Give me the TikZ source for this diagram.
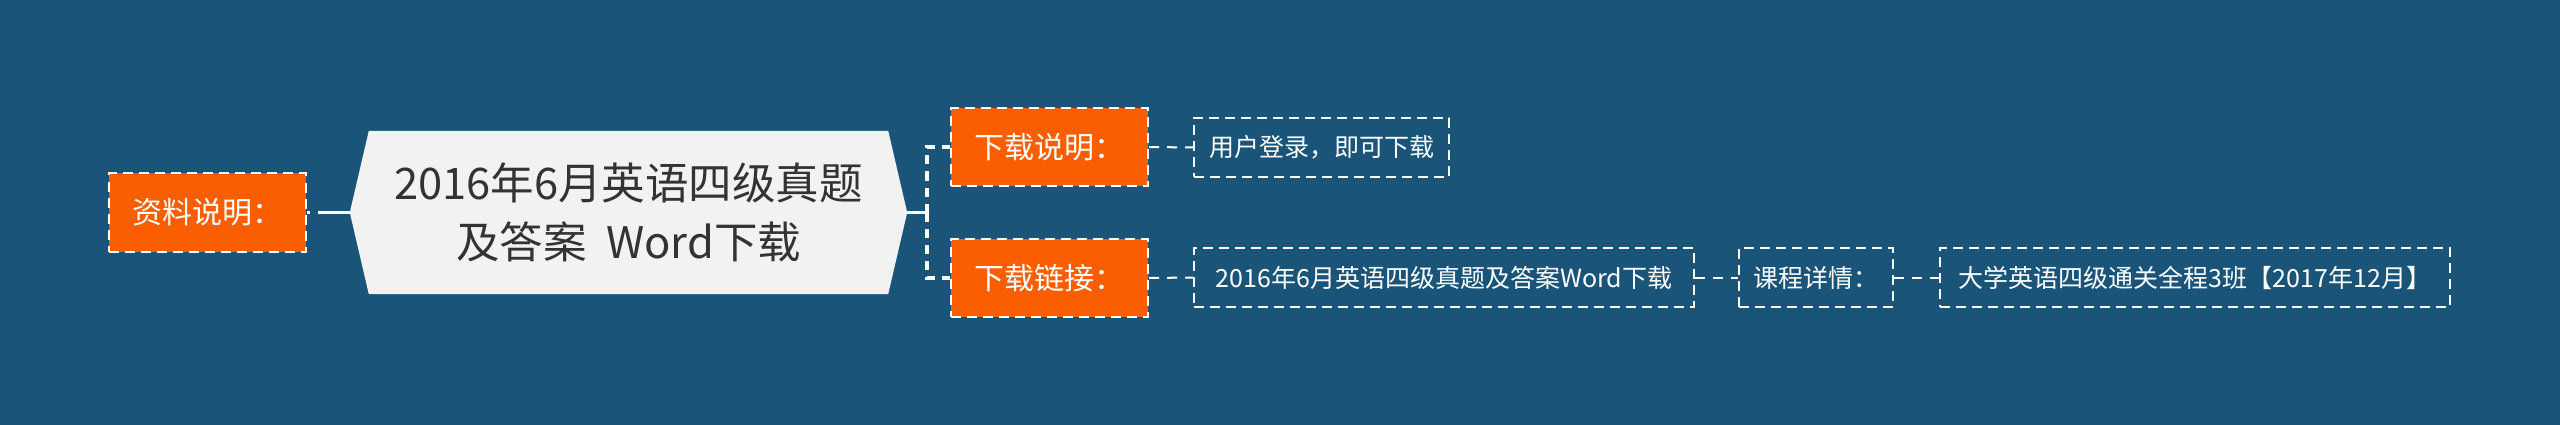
\documentclass[tikz,border=0pt]{standalone}
\usepackage{fontspec}
\setmainfont{Noto Sans CJK SC}
\usetikzlibrary{backgrounds}
\definecolor{bgblue}{RGB}{26,84,120}
\definecolor{orangefill}{RGB}{250,94,0}
\definecolor{centerfill}{RGB}{242,242,242}
\definecolor{centertext}{RGB}{51,51,51}
\tikzset{
  orangebox/.style={draw=white, line width=2pt, dash pattern=on 10pt off 6pt, fill=orangefill,
    text=white, font=\fontsize{30}{36}\selectfont, minimum width=197pt, minimum height=78pt,
    inner sep=0pt},
  textbox/.style={draw=white, line width=2pt, dash pattern=on 10pt off 6pt,
    text=white, font=\fontsize{25}{30}\selectfont, minimum height=59pt, inner sep=0pt},
  link/.style={draw=white, line width=2pt, dash pattern=on 10pt off 8pt},
  trunk/.style={draw=white, line width=3.5pt, dash pattern=on 9pt off 7pt},
}
\begin{document}
\begin{tikzpicture}[x=1pt,y=-1pt]
% central node
\node[minimum width=557pt, minimum height=163pt, inner sep=0pt, text=centertext,
  align=center, font=\fontsize{43.5}{59}\selectfont] (c) at (628.5,212.5)
  {2016年6月英语四级真题\\及答案\ \ Word下载};
\begin{scope}[on background layer]
\useasboundingbox[fill=bgblue] (0,0) rectangle (2560,425);
\fill[centerfill] (c.west) -- ([xshift=19pt]c.north west) -- ([xshift=-19pt]c.north east)
  -- (c.east) -- ([xshift=-19pt]c.south east) -- ([xshift=19pt]c.south west) -- cycle;
\end{scope}
% left
\node[orangebox] (l) at (207,212.5) {资料说明：};
% right branches
\node[orangebox] (d1) at (1049.5,147) {下载说明：};
\node[orangebox] (d2) at (1049.5,278) {下载链接：};
\node[textbox, minimum width=255pt] (t1) at (1321.5,147.5) {用户登录，即可下载};
\node[textbox, minimum width=500pt] (t2) at (1444,277.5) {2016年6月英语四级真题及答案Word下载};
\node[textbox, minimum width=154pt] (t3) at (1816,277.5) {课程详情：};
\node[textbox, minimum width=510pt] (t4) at (2195,277.5) {大学英语四级通关全程3班【2017年12月】};
\coordinate (j) at (927,212.5);
% connectors
\draw[white, line width=3pt, dash pattern=on 32pt off 8pt] (c.west) -- (l.east);
\draw[white, line width=3.5pt] (c.east) -- (j);
\draw[trunk] (j) |- (d1.west);
\draw[trunk] (j) |- (d2.west);
\draw[link] (d1.east) -- (t1.west);
\draw[link] (d2.east) -- (t2.west);
\draw[link] (t2.east) -- (t3.west);
\draw[link] (t3.east) -- (t4.west);
\end{tikzpicture}
\end{document}
